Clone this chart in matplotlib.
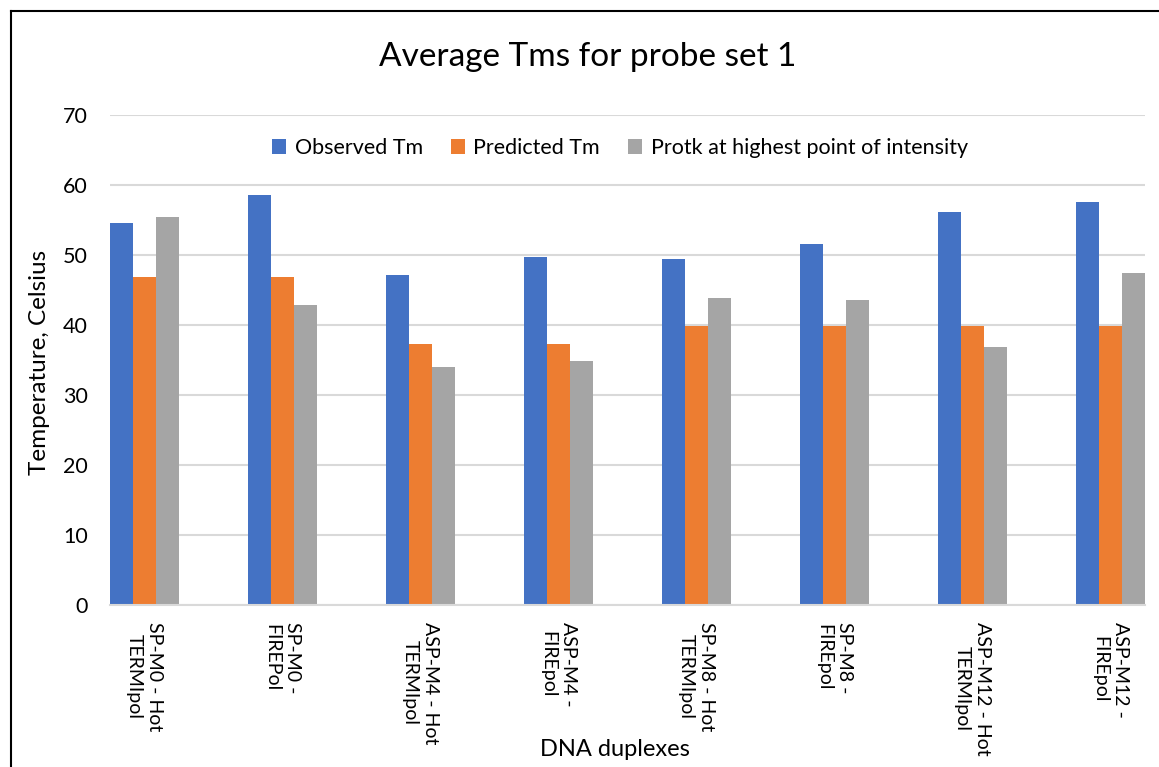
import numpy as np
import matplotlib
matplotlib.use('Agg')
import matplotlib.pyplot as plt
from matplotlib.lines import Line2D

plt.rcParams['font.family'] = ['Lato', 'DejaVu Sans']

categories = ['SP-M0 - Hot\nTERMIpol', 'SP-M0 -\nFIREPol',
              'ASP-M4 - Hot\nTERMIpol', 'ASP-M4 -\nFIREpol',
              'SP-M8 - Hot\nTERMIpol', 'SP-M8 -\nFIREpol',
              'ASP-M12 - Hot\nTERMIpol', 'ASP-M12 -\nFIREpol']
observed = [54.6, 58.6, 47.1, 49.7, 49.4, 51.6, 56.2, 57.6]
predicted = [46.8, 46.8, 37.3, 37.3, 39.9, 39.9, 39.8, 39.8]
protk = [55.4, 42.9, 34.0, 34.9, 43.9, 43.6, 36.9, 47.5]
series_names = ['Observed Tm', 'Predicted Tm', 'Protk at highest point of intensity']
colors = ['#4472C4', '#ED7D31', '#A5A5A5']

fig = plt.figure(figsize=(11.59, 7.67), dpi=100)
ax = fig.add_axes([110/1159, 1-605/767, (1145-110)/1159, (605-115)/767])

x = np.arange(len(categories))
w = 1/6
for i, (vals, name, c) in enumerate(zip([observed, predicted, protk], series_names, colors)):
    ax.bar(x + (i-1)*w, vals, w, color=c, label=name, zorder=2)

ax.set_xlim(-1.5*w, len(categories)-1+1.5*w)
ax.set_ylim(0, 70)
ax.set_yticks(range(0, 71, 10))
ax.yaxis.grid(True, color='#D9D9D9', linewidth=1.5, zorder=0)
ax.set_axisbelow(True)
for s in ['top', 'right', 'left']:
    ax.spines[s].set_visible(False)
ax.spines['bottom'].set_color('#D9D9D9')
ax.spines['bottom'].set_linewidth(1.5)
ax.tick_params(axis='both', length=0, colors='black')
ax.tick_params(axis='y', pad=16, labelsize=15.5)
ax.set_xticks(x)
ax.set_xticklabels(categories, rotation=270, ha='center', va='top',
                   multialignment='center', linespacing=1.28, fontsize=14)
ax.tick_params(axis='x', pad=12)

fig.text(588/1159, 1-57/767, 'Average Tms for probe set 1', ha='center', va='center', fontsize=24)
fig.text(40/1159, 1-362/767, 'Temperature, Celsius', rotation=90, ha='center', va='center', fontsize=17.5)
fig.text(615/1159, 1-750/767, 'DNA duplexes', ha='center', va='center', fontsize=17)

ax.legend(loc='center', bbox_to_anchor=(620/1159, 1-148/767), bbox_transform=fig.transFigure,
          ncol=3, frameon=False, fontsize=15.5, handlelength=0.65, handleheight=0.65,
          handletextpad=0.4, columnspacing=1.3)

# chart border (left and top only, the rest is cropped)
fig.add_artist(Line2D([10.5/1159, 10.5/1159], [0, 1-10.5/767], color='black', lw=1.5,
                      transform=fig.transFigure))
fig.add_artist(Line2D([10.5/1159, 1], [1-10.5/767, 1-10.5/767], color='black', lw=1.5,
                      transform=fig.transFigure))

fig.savefig('out.png', dpi=100)
